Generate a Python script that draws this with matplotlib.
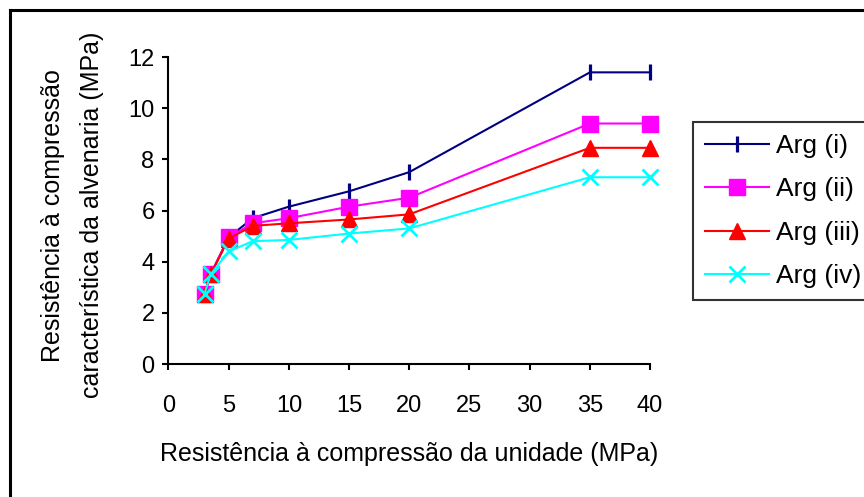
import matplotlib.pyplot as plt
from matplotlib.lines import Line2D

plt.rcParams['font.family'] = ['Liberation Sans', 'DejaVu Sans']

# unit compressive strength (MPa)
unit_strength = [3, 3.5, 5, 7, 10, 15, 20, 35, 40]

# characteristic masonry strength (MPa) per mortar type
arg_i = [2.75, 3.5, 4.95, 5.7, 6.15, 6.75, 7.5, 11.4, 11.4]
arg_ii = [2.75, 3.5, 4.95, 5.5, 5.7, 6.15, 6.5, 9.4, 9.4]
arg_iii = [2.75, 3.5, 4.9, 5.4, 5.5, 5.65, 5.85, 8.45, 8.45]
arg_iv = [2.75, 3.5, 4.4, 4.8, 4.85, 5.1, 5.3, 7.3, 7.3]

series = [
    ("Arg (i)", arg_i, "#000080", "|", 11, 2.3),
    ("Arg (ii)", arg_ii, "#FF00FF", "s", 12, 1),
    ("Arg (iii)", arg_iii, "#FF0000", "^", 12, 1),
    ("Arg (iv)", arg_iv, "#00FFFF", "x", 12, 2),
]

fig = plt.figure(figsize=(8.64, 4.97), dpi=100)
ax = fig.add_axes([0.1950, 0.2676, 0.5574, 0.6177])

for label, vals, color, marker, ms, mew in series:
    ax.plot(unit_strength, vals, color=color, lw=1.5, marker=marker,
            markersize=ms, markeredgewidth=mew,
            markerfacecolor=color, markeredgecolor=color, label=label, clip_on=False)

ax.set_xlim(0, 40)
ax.set_ylim(0, 12)
ax.set_xticks(range(0, 41, 5))
ax.set_yticks(range(0, 13, 2))
for s in ("top", "right"):
    ax.spines[s].set_visible(False)
for s in ("left", "bottom"):
    ax.spines[s].set_linewidth(1.5)
ax.tick_params(direction="out", length=4, width=1.5, labelsize=17)
ax.tick_params(axis="x", pad=18)
ax.tick_params(axis="y", pad=6)

ax.set_xlabel("Resistência à compressão da unidade (MPa)", fontsize=18, labelpad=18)
fig.text(0.084, 0.567, "Resistência à compressão\ncaracterística da alvenaria (MPa)",
         rotation=90, ha="center", va="center", multialignment="center",
         fontsize=18, linespacing=1.75)

leg = fig.legend(loc="upper left", bbox_to_anchor=(0.802, 0.7545), fontsize=19,
                 frameon=True, fancybox=False, edgecolor="black", handlelength=2.45,
                 borderpad=0.45, labelspacing=0.74, handletextpad=0.25, borderaxespad=0)
leg.get_frame().set_linewidth(1.5)

# outer frame (only top and left edges visible in the original)
fig.add_artist(Line2D([0.011, 1.0], [0.979, 0.979], transform=fig.transFigure, color="black", lw=2.2))
fig.add_artist(Line2D([0.011, 0.011], [0.0, 0.979], transform=fig.transFigure, color="black", lw=2.2))

fig.savefig("out.png", dpi=100)
